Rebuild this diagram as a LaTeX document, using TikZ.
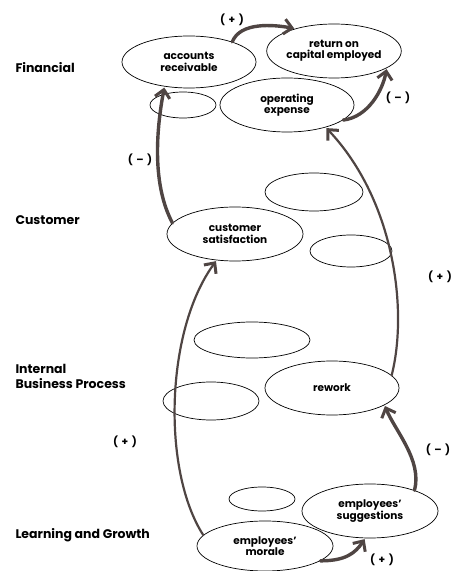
\documentclass[tikz,border=0pt]{standalone}
\usepackage{fontspec}
\setmainfont{Poppins}
\usetikzlibrary{shapes.geometric,arrows.meta}
\definecolor{arrowc}{HTML}{4F4543}
\tikzset{
  oval/.style={ellipse, draw=black, line width=0.7pt, inner sep=0pt, align=center,
    font=\bfseries\fontsize{10.5}{11.5}\selectfont},
  persp/.style={anchor=west, align=left, font=\bfseries\fontsize{12.5}{15}\selectfont},
  sign/.style={font=\bfseries\fontsize{10.5}{12}\selectfont},
  link/.style={draw=arrowc, line width=3.4pt, line cap=round,
    -{Straight Barb[length=8pt,width=15pt,line width=3pt]}, shorten >=1pt},
  longlink/.style={link, line width=2.2pt}
}
\begin{document}
\begin{tikzpicture}[x=1pt,y=1pt]
\useasboundingbox (0,0) rectangle (458,571);
% perspectives
\node[persp] (fin) at (12,503) {Financial};
\node[persp] (cus) at (12,351) {Customer};
\node[persp] (ibp) at (12,195) {Internal\\Business Process};
\node[persp] (lg) at (12,36) {Learning and Growth};
% ellipses
\node[oval, minimum width=134pt, minimum height=52pt] (ar) at (189,509) {accounts\\receivable};
\node[oval, minimum width=134pt, minimum height=54pt] (roce) at (334,520) {return on\\capital employed};
\node[oval, minimum width=66pt, minimum height=26pt] (e1) at (183,466) {};
\node[oval, minimum width=134pt, minimum height=54pt] (opex) at (287,466) {operating\\expense};
\node[oval, minimum width=98pt, minimum height=38pt] (e2) at (314,379) {};
\node[oval, minimum width=136pt, minimum height=54pt] (cs) at (235,337) {customer\\satisfaction};
\node[oval, minimum width=82pt, minimum height=32pt] (e3) at (351,320) {};
\node[oval, minimum width=116pt, minimum height=36pt] (e4) at (252,231) {};
\node[oval, minimum width=134pt, minimum height=54pt] (rw) at (332,183) {rework};
\node[oval, minimum width=96pt, minimum height=38pt] (e5) at (211,170) {};
\node[oval, minimum width=66pt, minimum height=24pt] (e6) at (262,72) {};
\node[oval, minimum width=136pt, minimum height=54pt] (es) at (370,60) {employees'\\suggestions};
\node[oval, minimum width=136pt, minimum height=50pt] (em) at (265,25) {employees'\\morale};
% signs
\node[sign] (s1) at (232,551) {(\,\,+\,\,)};
\node[sign] (s2) at (140,411) {(\,\,–\,\,)};
\node[sign] (s3) at (398,473) {(\,\,–\,\,)};
\node[sign] (s4) at (440,294) {(\,\,+\,\,)};
\node[sign] (s5) at (125,129) {(\,\,+\,\,)};
\node[sign] (s6) at (438,121) {(\,\,–\,\,)};
\node[sign] (s7) at (382,11) {(\,\,+\,\,)};
% links
\draw[link] (ar.25) .. controls +(8,20) and +(-22,4) .. (roce.150);
\draw[link] (opex.-15) .. controls +(25,3) and +(-4,-22) .. (roce.-18);
\draw[link] (cs.170) .. controls (150,390) and (158,450) .. (ar.-135);
\draw[longlink] (rw.12) .. controls (408,260) and (395,370) .. (opex.-30);
\draw[longlink] (em.170) .. controls (162,100) and (165,240) .. (cs.-125);
\draw[link] (es.25) .. controls +(8,30) and +(10,-25) .. (rw.-18);
\draw[link] (em.-15) .. controls +(25,0) and +(-10,-15) .. (es.-100);
\end{tikzpicture}
\end{document}
